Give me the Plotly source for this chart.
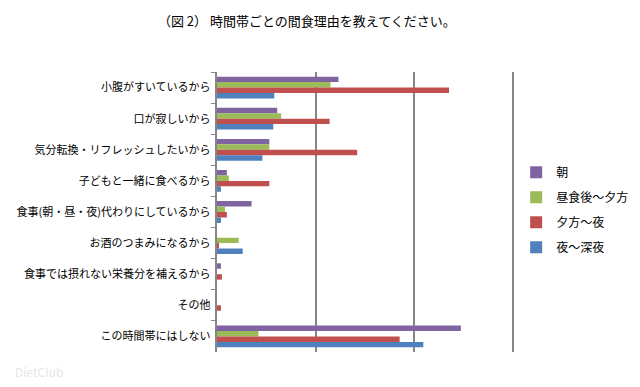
import plotly.graph_objects as go

categories = [
    "小腹がすいているから",
    "口が寂しいから",
    "気分転換・リフレッシュしたいから",
    "子どもと一緒に食べるから",
    "食事(朝・昼・夜)代わりにしているから",
    "お酒のつまみになるから",
    "食事では摂れない栄養分を補えるから",
    "その他",
    "この時間帯にはしない",
]
series_names = ["朝", "昼食後～夕方", "夕方～夜", "夜～深夜"]
asa = [12.3, 6.1, 5.3, 1.0, 3.5, 0.0, 0.4, 0.0, 24.7]
hiru = [11.5, 6.5, 5.3, 1.2, 0.8, 2.2, 0.0, 0.0, 4.2]
yugata = [23.5, 11.4, 14.2, 5.3, 1.0, 0.2, 0.5, 0.4, 18.5]
yoru = [5.8, 5.7, 4.6, 0.4, 0.4, 2.6, 0.0, 0.0, 20.9]
grid_values = [10, 20, 30]
colors = ["#8064A2", "#9BBB59", "#C0504D", "#4F81BD"]

font_family = "Noto Sans CJK JP, Noto Sans, sans-serif"

fig = go.Figure()
for i, (name, vals) in enumerate(zip(series_names, [asa, hiru, yugata, yoru])):
    fig.add_trace(go.Bar(
        y=categories, x=vals, name=name, orientation="h",
        marker=dict(color=colors[i], line=dict(width=0)),
        legendgroup=name,
    ))

fig.update_layout(
    width=640, height=387,
    margin=dict(l=209, r=122, t=64, b=43),
    paper_bgcolor="white", plot_bgcolor="white",
    barmode="group", bargap=0.3, bargroupgap=0,
    font=dict(family=font_family, size=12, color="#000000"),
    title=dict(text="（図 2） 時間帯ごとの間食理由を教えてください。",
               x=0.467, xanchor="center", y=0.964, yanchor="middle",
               font=dict(size=13, color="#000000", family=font_family)),
    legend=dict(xref="container", yref="container",
                x=0.794, xanchor="left", y=0.479, yanchor="middle",
                font=dict(size=12), traceorder="grouped", tracegroupgap=6,
                itemwidth=30, bgcolor="rgba(0,0,0,0)"),
    showlegend=True,
)
fig.update_xaxes(range=[0, 30.3], tickvals=grid_values, showgrid=True,
                 gridcolor="#868686", gridwidth=1.5, showticklabels=False,
                 zeroline=False, showline=False, ticks="", automargin=False)
fig.update_yaxes(autorange="reversed", showline=True, linecolor="#868686",
                 linewidth=1.5, ticks="outside", tickson="boundaries",
                 ticklen=4, tickcolor="#868686", tickfont=dict(size=11),
                 showgrid=False, ticksuffix=" ", automargin=False)
fig.add_vline(x=grid_values[-1], line=dict(color="#868686", width=1.5),
              layer="below")
fig.add_annotation(text="DietClub", xref="paper", yref="paper",
                   x=-0.683, y=-0.071, xanchor="left", yanchor="middle",
                   showarrow=False, font=dict(size=12, color="#e6e6e6"))

fig.write_html("out.html")
